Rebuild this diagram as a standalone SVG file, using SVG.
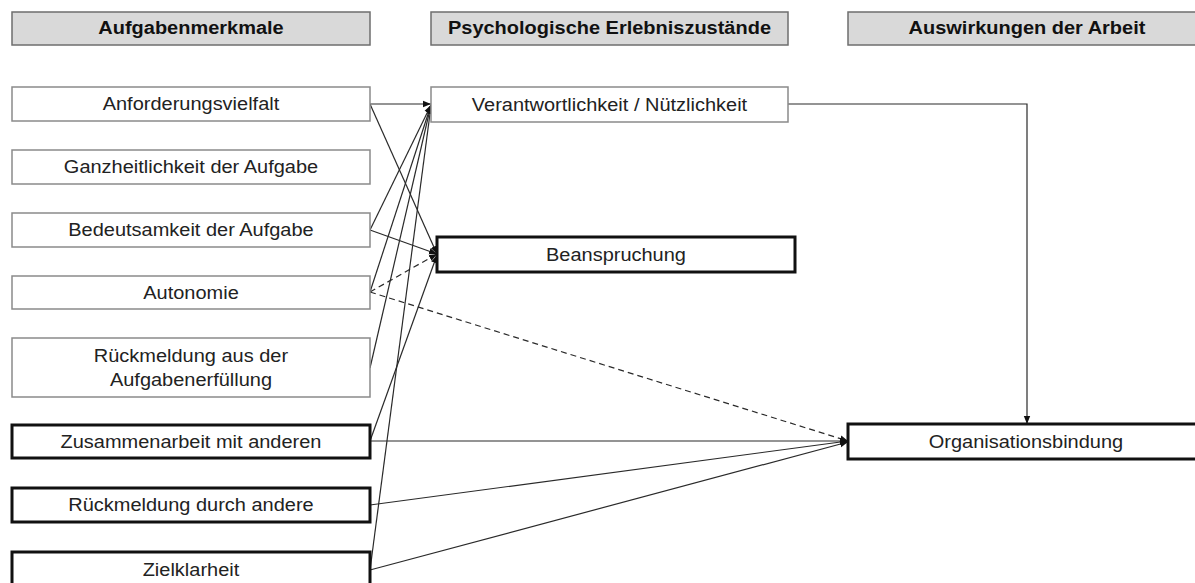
<svg xmlns="http://www.w3.org/2000/svg" width="1195" height="583" viewBox="0 0 1195 583">
  <style>
    .hdr { fill: #d9d9d9; stroke: #6e6e6e; stroke-width: 1.5; }
    .box { fill: #ffffff; stroke: #8a8a8a; stroke-width: 1.5; }
    .box-strong { fill: #ffffff; stroke: #111111; stroke-width: 3; }
    text { font-family: "Liberation Sans", Arial, sans-serif; font-size: 18.5px; fill: #222222; text-anchor: middle;
           transform-box: fill-box; transform-origin: center; transform: scaleX(1.08); }
    .hdr-label { font-weight: bold; fill: #111111; }
    .edge { fill: none; stroke: #2a2a2a; stroke-width: 1.2; }
    .dashed { stroke-dasharray: 6 4; }
  </style>
  <defs>
    <marker id="arrow" markerUnits="userSpaceOnUse" markerWidth="8" markerHeight="8" viewBox="0 0 8 8" refX="8" refY="4" orient="auto">
      <path d="M0,0.8 L8,4 L0,7.2 Z" fill="#111111"/>
    </marker>
  </defs>

  <rect width="1195" height="583" fill="#ffffff"/>

  <!-- connectors -->
  <g id="connectors">
    <line class="edge" x1="370" y1="104" x2="431" y2="104" marker-end="url(#arrow)"/>
    <line class="edge" x1="370" y1="104" x2="437" y2="254" marker-end="url(#arrow)"/>
    <line class="edge" x1="370" y1="230" x2="431" y2="105" marker-end="url(#arrow)"/>
    <line class="edge" x1="370" y1="230" x2="437" y2="254" marker-end="url(#arrow)"/>
    <line class="edge" x1="370" y1="292" x2="431" y2="105" marker-end="url(#arrow)"/>
    <line class="edge dashed" x1="370" y1="292" x2="437" y2="254" marker-end="url(#arrow)"/>
    <line class="edge dashed" x1="370" y1="292" x2="848" y2="441" marker-end="url(#arrow)"/>
    <line class="edge" x1="370" y1="368" x2="431" y2="105" marker-end="url(#arrow)"/>
    <line class="edge" x1="370" y1="441" x2="437" y2="255" marker-end="url(#arrow)"/>
    <line class="edge" x1="370" y1="441" x2="848" y2="441" marker-end="url(#arrow)"/>
    <line class="edge" x1="370" y1="505" x2="848" y2="441" marker-end="url(#arrow)"/>
    <line class="edge" x1="370" y1="570" x2="431" y2="106" marker-end="url(#arrow)"/>
    <line class="edge" x1="370" y1="570" x2="848" y2="442" marker-end="url(#arrow)"/>
    <polyline class="edge" points="788,104 1027,104 1027,424" marker-end="url(#arrow)"/>
  </g>

  <!-- column headers -->
  <g id="header-aufgabenmerkmale">
    <rect class="hdr" x="12" y="12" width="358" height="33"/>
    <text class="hdr-label" x="191" y="34.5">Aufgabenmerkmale</text>
  </g>
  <g id="header-erlebniszustaende">
    <rect class="hdr" x="431" y="12" width="357" height="33"/>
    <text class="hdr-label" x="609.5" y="34.5">Psychologische Erlebniszustände</text>
  </g>
  <g id="header-auswirkungen">
    <rect class="hdr" x="848" y="12" width="358" height="33"/>
    <text class="hdr-label" x="1027" y="34.5">Auswirkungen der Arbeit</text>
  </g>

  <!-- task characteristics -->
  <g id="anforderungsvielfalt">
    <rect class="box" x="12" y="87" width="358" height="34"/>
    <text x="191" y="110.5">Anforderungsvielfalt</text>
  </g>
  <g id="ganzheitlichkeit">
    <rect class="box" x="12" y="150" width="358" height="34"/>
    <text x="191" y="173.5">Ganzheitlichkeit der Aufgabe</text>
  </g>
  <g id="bedeutsamkeit">
    <rect class="box" x="12" y="213" width="358" height="34"/>
    <text x="191" y="236.5">Bedeutsamkeit der Aufgabe</text>
  </g>
  <g id="autonomie">
    <rect class="box" x="12" y="276" width="358" height="33"/>
    <text x="191" y="299">Autonomie</text>
  </g>
  <g id="rueckmeldung-aufgabe">
    <rect class="box" x="12" y="338" width="358" height="59"/>
    <text x="191" y="362.5">Rückmeldung aus der</text>
    <text x="191" y="386.5">Aufgabenerfüllung</text>
  </g>
  <g id="zusammenarbeit">
    <rect class="box-strong" x="12" y="425" width="358" height="33"/>
    <text x="191" y="448">Zusammenarbeit mit anderen</text>
  </g>
  <g id="rueckmeldung-andere">
    <rect class="box-strong" x="12" y="488" width="358" height="34"/>
    <text x="191" y="511.5">Rückmeldung durch andere</text>
  </g>
  <g id="zielklarheit">
    <rect class="box-strong" x="12" y="552" width="358" height="36"/>
    <text x="191" y="576">Zielklarheit</text>
  </g>

  <!-- psychological states -->
  <g id="verantwortlichkeit">
    <rect class="box" x="431" y="87" width="357" height="35"/>
    <text x="609.5" y="111">Verantwortlichkeit / Nützlichkeit</text>
  </g>
  <g id="beanspruchung">
    <rect class="box-strong" x="437" y="237" width="358" height="35"/>
    <text x="616" y="261">Beanspruchung</text>
  </g>

  <!-- outcomes -->
  <g id="organisationsbindung">
    <rect class="box-strong" x="848" y="424" width="358" height="35"/>
    <text x="1026" y="448">Organisationsbindung</text>
  </g>
</svg>
